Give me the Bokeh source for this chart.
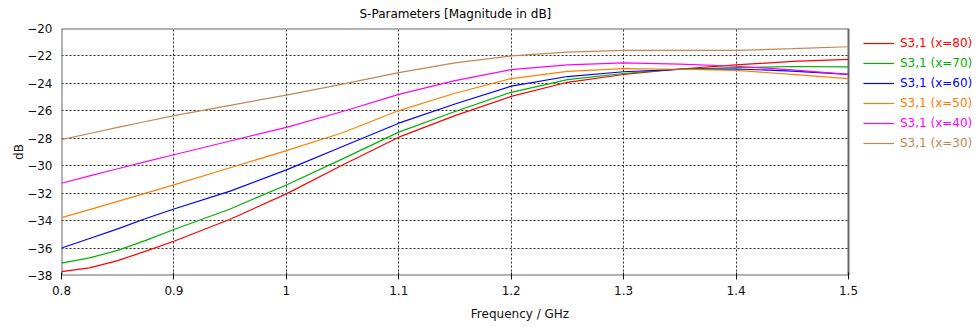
from bokeh.plotting import figure
from bokeh.models import Legend, LegendItem, FixedTicker, CustomJSTickFormatter, Range1d
from bokeh.embed import file_html
from bokeh.resources import INLINE

# ---------------- data ----------------
freq = [0.800, 0.825, 0.850, 0.875, 0.900, 0.950, 1.000, 1.050, 1.100, 1.150,
        1.200, 1.250, 1.300, 1.350, 1.400, 1.450, 1.500]

s31_x80 = [-37.72, -37.45, -36.92, -36.22, -35.50, -33.90, -32.05, -29.95, -27.92, -26.35,
           -24.95, -23.92, -23.35, -22.95, -22.65, -22.40, -22.25]
s31_x70 = [-37.10, -36.72, -36.17, -35.44, -34.65, -33.15, -31.40, -29.50, -27.55, -26.05,
           -24.65, -23.72, -23.28, -22.95, -22.85, -22.77, -22.80]
s31_x60 = [-36.00, -35.30, -34.60, -33.85, -33.15, -31.85, -30.30, -28.60, -26.90, -25.50,
           -24.20, -23.50, -23.15, -22.98, -22.95, -23.10, -23.35]
s31_x50 = [-33.78, -33.20, -32.60, -32.00, -31.40, -30.15, -28.90, -27.60, -25.98, -24.72,
           -23.65, -23.12, -22.93, -22.97, -23.05, -23.35, -23.65]
s31_x40 = [-31.28, -30.74, -30.22, -29.70, -29.20, -28.20, -27.20, -26.05, -24.80, -23.80,
           -23.00, -22.65, -22.50, -22.60, -22.75, -23.02, -23.35]
s31_x30 = [-28.10, -27.65, -27.20, -26.78, -26.35, -25.60, -24.85, -24.05, -23.22, -22.50,
           -22.00, -21.72, -21.60, -21.60, -21.60, -21.47, -21.33]

series_labels = ["S3,1 (x=80)", "S3,1 (x=70)", "S3,1 (x=60)", "S3,1 (x=50)", "S3,1 (x=40)", "S3,1 (x=30)"]
series_values = [s31_x80, s31_x70, s31_x60, s31_x50, s31_x40, s31_x30]
series_colors = ["#FF0000", "#00B000", "#0000FF", "#FF8000", "#FF00FF", "#C08850"]

x_min, x_max = 0.8, 1.5
y_min, y_max = -38, -20
x_ticks = [0.8, 0.9, 1.0, 1.1, 1.2, 1.3, 1.4, 1.5]
y_ticks = [-38, -36, -34, -32, -30, -28, -26, -24, -22, -20]

title_text = "S-Parameters [Magnitude in dB]"
x_label = "Frequency / GHz"
y_label = "dB"

FONT = "DejaVu Sans"

# ---------------- layout constants (pixels) ----------------
W, H = 978, 327
LEFT, TOP, BOTTOM = 61, 28, 52
PLOT_W = 787                      # pixel width of the 0.8..1.5 plotting box
FRAME_W = W - LEFT                # frame extended to the right so the legend lives inside it
x_end = x_min + (x_max - x_min) * FRAME_W / PLOT_W

p = figure(width=W, height=H, x_range=Range1d(x_min, x_end), y_range=Range1d(y_min, y_max),
           output_backend="svg", toolbar_location=None,
           min_border_left=LEFT, min_border_right=0, min_border_top=TOP, min_border_bottom=BOTTOM)

p.title.text = title_text
p.title.align = "left"
p.title.vertical_align = "top"
p.title.offset = 298
p.title.text_font = FONT
p.title.text_font_size = "12px"
p.title.text_font_style = "normal"
p.title.text_color = "#000000"
p.title.standoff = 12

p.outline_line_color = None
p.background_fill_color = "white"
p.border_fill_color = "white"

# axes
p.xaxis.ticker = FixedTicker(ticks=x_ticks)
p.yaxis.ticker = FixedTicker(ticks=y_ticks)
p.xaxis.bounds = (x_min, x_max)
p.xaxis.formatter = CustomJSTickFormatter(code="return tick.toFixed(1).replace(/\\.0$/, '');")
for ax in (p.xaxis[0], p.yaxis[0]):
    ax.axis_line_color = None
    ax.minor_tick_line_color = None
    ax.major_label_text_font = FONT
    ax.major_label_text_font_size = "12px"
    ax.major_label_text_color = "#111111"
    ax.axis_label_text_font = FONT
    ax.axis_label_text_font_size = "12px"
    ax.axis_label_text_font_style = "normal"
    ax.axis_label_text_color = "#111111"
    ax.major_tick_line_color = "#111111"

p.xaxis.axis_label = x_label
p.xaxis.major_tick_in = 3
p.xaxis.major_tick_out = 4
p.xaxis.major_label_standoff = 6
p.xaxis.axis_label_standoff = 9

p.yaxis.axis_label = y_label
p.yaxis.major_tick_in = 0
p.yaxis.major_tick_out = 0
p.yaxis.major_label_standoff = 9
p.yaxis.axis_label_standoff = -2

# grid
for g in (p.xgrid[0], p.ygrid[0]):
    g.grid_line_color = "#000000"
    g.grid_line_dash = "2 2"
    g.grid_line_width = 1
    g.grid_line_alpha = 0.85
p.ygrid[0].cross_bounds = (x_min, x_max)

# plotting box (outline of the 0.8..1.5 region)
p.quad(left=[x_min], right=[x_max], bottom=[y_min], top=[y_max],
       fill_color=None, fill_alpha=0, line_color="#666666", line_alpha=1.0, line_width=2)

renderers = []
for vals, col in zip(series_values, series_colors):
    r = p.line(freq, vals, line_color=col, line_width=1.2)
    renderers.append(r)

# legend: one small legend per entry so each label gets its own colour
for i, (lab, col, r) in enumerate(zip(series_labels, series_colors, renderers)):
    lg = Legend(items=[LegendItem(label=lab, renderers=[r])],
                location=(802, 222 - 20 * i),
                orientation="vertical",
                padding=0, spacing=0, margin=0,
                glyph_width=31, glyph_height=20, label_height=20,
                label_standoff=6,
                label_text_font=FONT, label_text_font_size="12px",
                label_text_color=col,
                border_line_color=None, background_fill_alpha=0)
    p.add_layout(lg, "center")

open("out.html", "w").write(file_html(p, INLINE))
